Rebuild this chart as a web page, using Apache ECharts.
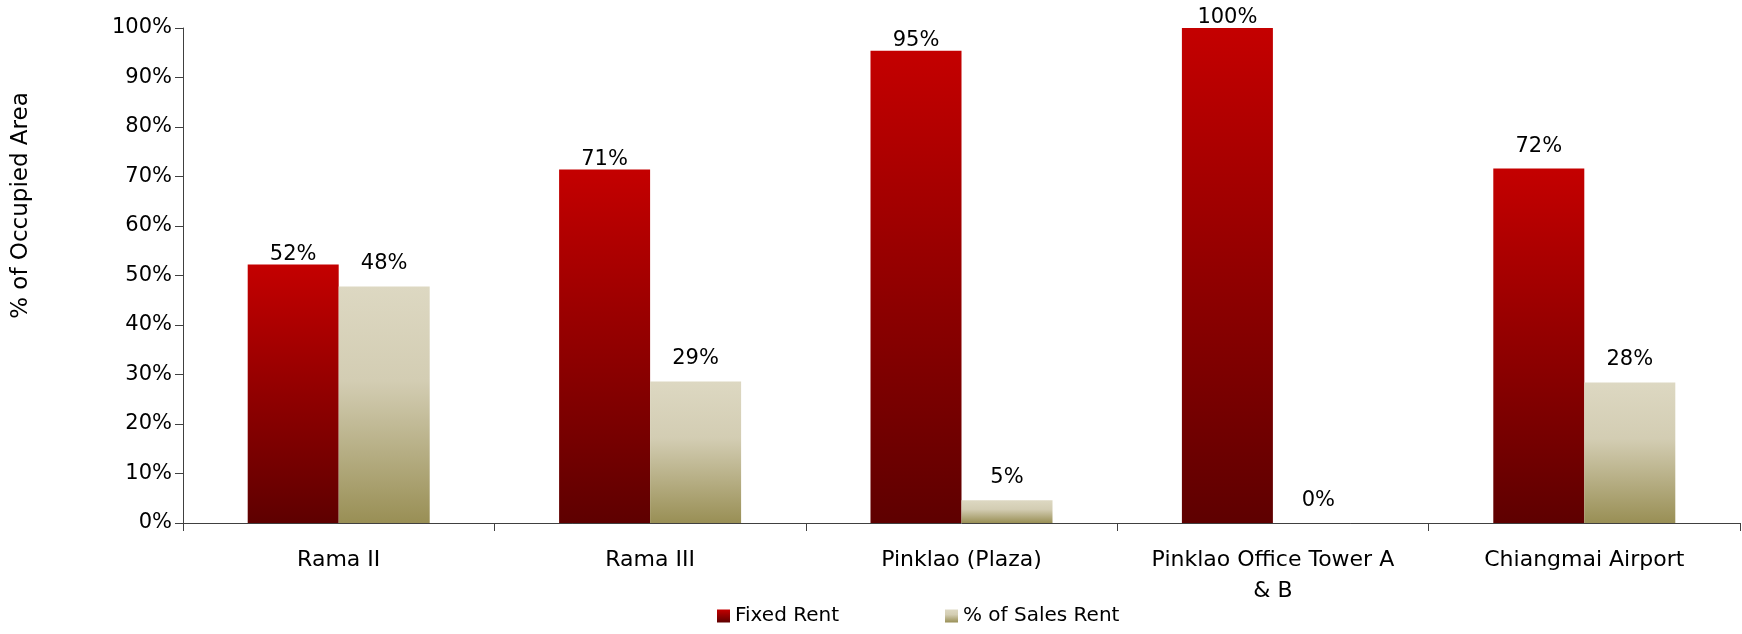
<!DOCTYPE html>
<html>
<head>
<meta charset="utf-8">
<script src="https://cdn.jsdelivr.net/npm/echarts@6/dist/echarts.min.js"></script>
<style>
  html, body { margin: 0; padding: 0; background: #fff; }
  #chart { width: 1742px; height: 634px; }
</style>
</head>
<body>
<div id="chart"></div>
<script>
// categories and values
const categories = ["Rama II", "Rama III", "Pinklao (Plaza)", "Pinklao Office Tower A & B", "Chiangmai Airport"];
const fixedRent = [52.2, 71.4, 95.4, 100, 71.6];
const salesRent = [47.8, 28.6, 4.6, 0, 28.4];
const yTicks = [0, 10, 20, 30, 40, 50, 60, 70, 80, 90, 100];

const font = "DejaVu Sans";

function grad(stops) {
  return new echarts.graphic.LinearGradient(0, 0, 0, 1, stops);
}
const redFill = grad([
  { offset: 0, color: "#c40000" },
  { offset: 1, color: "#5e0000" }
]);
const sandFill = grad([
  { offset: 0, color: "#ddd8c2" },
  { offset: 0.4, color: "#d3cdb3" },
  { offset: 1, color: "#998f55" }
]);

function label(dist) {
  return {
    show: true,
    position: "top",
    distance: dist,
    color: "#000",
    fontFamily: font,
    fontSize: 21,
    formatter: p => Math.round(p.value) + "%"
  };
}

// excel pushed a few labels further up
const fixedData = fixedRent.map((v, i) => (i === 4 ? { value: v, label: { distance: 12 } } : v));

let chart = echarts.init(document.getElementById("chart"));
let option = {
  animation: false,
  textStyle: { fontFamily: font },
  legend: {
    bottom: 3,
    left: 712,
    itemWidth: 13,
    itemHeight: 13,
    itemGap: 106,
    textStyle: { fontFamily: font, fontSize: 20, color: "#000" },
    data: [
      { name: "Fixed Rent", icon: "rect", itemStyle: { color: redFill } },
      { name: "% of Sales Rent", icon: "rect", itemStyle: { color: sandFill } }
    ]
  },
  grid: { left: 183, right: 2, top: 28, bottom: 111 },
  xAxis: {
    type: "category",
    data: categories,
    axisLine: { lineStyle: { color: "#404040", width: 1 } },
    axisTick: { show: true, length: 8, lineStyle: { color: "#404040" } },
    axisLabel: {
      color: "#000",
      fontFamily: font,
      fontSize: 22,
      margin: 22,
      lineHeight: 31,
      interval: 0,
      formatter: v => v.replace(" A & B", " A\n& B")
    }
  },
  yAxis: {
    type: "value",
    min: 0,
    max: 100,
    interval: 10,
    name: "% of Occupied Area",
    nameLocation: "middle",
    nameGap: 150,
    nameTextStyle: { fontFamily: font, fontSize: 23, color: "#000", padding: [0, 0, 0, 140] },
    axisLine: { show: true, lineStyle: { color: "#404040" } },
    axisTick: { show: true, length: 8, lineStyle: { color: "#404040" } },
    splitLine: { show: false },
    axisLabel: {
      color: "#000",
      fontFamily: font,
      fontSize: 21,
      margin: 11,
      formatter: v => (yTicks.indexOf(v) >= 0 ? v + "%" : "")
    }
  },
  series: [
    {
      name: "Fixed Rent",
      type: "bar",
      data: fixedData,
      barWidth: 91,
      barGap: "0%",
      itemStyle: { color: redFill },
      label: label(0)
    },
    {
      name: "% of Sales Rent",
      type: "bar",
      data: salesRent,
      barWidth: 91,
      barGap: "0%",
      itemStyle: { color: sandFill },
      label: label(12)
    }
  ]
};
chart.setOption(option);
</script>
</body>
</html>
